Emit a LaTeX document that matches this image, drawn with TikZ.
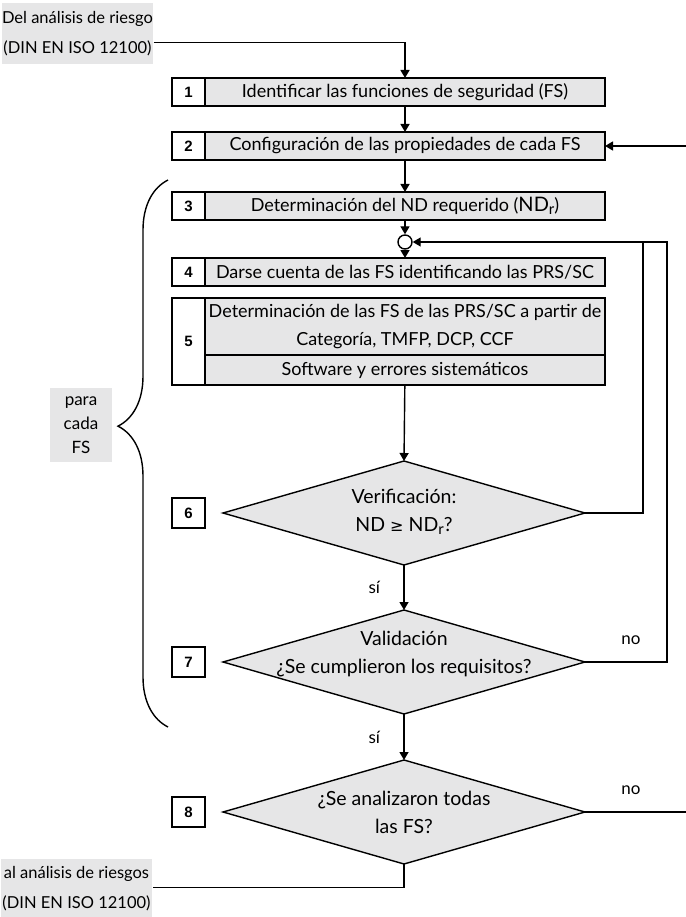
\documentclass[tikz,border=0pt]{standalone}
\usepackage{fontspec}
\setmainfont{Lato}
\newfontfamily\numfont{Liberation Sans}
\newfontfamily\symfont{DejaVu Sans}
\usetikzlibrary{arrows.meta,positioning,shapes.geometric,decorations.pathreplacing}
\definecolor{flowGray}{HTML}{E6E6E7}

\begin{document}
\begin{tikzpicture}[x=1pt,y=-1pt,font=\fontsize{17}{20}\selectfont,
  line width=1.4pt,>={Triangle[width=9pt,length=8pt]},
  stepbox/.style={draw,fill=flowGray,line width=1.7pt,minimum width=400pt,
        minimum height=28pt,inner sep=0pt,outer sep=0pt,font=\fontsize{18}{20}\selectfont},
  numbox/.style={draw,fill=white,line width=1.7pt,minimum width=33pt,
        minimum height=28pt,inner sep=0pt,outer sep=0pt,
        font=\numfont\bfseries\fontsize{15}{17}\selectfont},
  decision/.style={diamond,draw,fill=flowGray,line width=1.4pt,aspect=3.48,
        minimum width=362pt,minimum height=104pt,inner sep=0pt,outer sep=0pt},
  dtext/.style={align=center,inner sep=0pt,font=\fontsize{19.5}{28}\selectfont},
  termbox/.style={fill=flowGray,align=center,inner sep=0pt,
        font=\fontsize{16.5}{30}\selectfont}]
  \useasboundingbox (0,0) rectangle (685,917);

  % entrada y salida
  \node[termbox,minimum width=150pt,minimum height=61pt] (start) at (77.5,33.5)
       {Del análisis de riesgo\\(DIN EN ISO 12100)};
  \node[termbox,minimum width=151pt,minimum height=59pt] (final) at (76.5,888.5)
       {al análisis de riesgos\\(DIN EN ISO 12100)};

  % pasos
  \node[stepbox] (s1) at (405,92) {Identificar las funciones de seguridad (FS)};
  \node[numbox,left=0pt of s1] (n1) {1};
  \node[stepbox] (s2) at (405,146) {Configuración de las propiedades de cada FS};
  \node[numbox,left=0pt of s2] (n2) {2};
  \node[stepbox] (s3) at (405,206)
       {Determinación del ND requerido ({\fontsize{20}{20}\selectfont ND\raisebox{-0.35ex}{\fontsize{15}{15}\selectfont r}})};
  \node[numbox,left=0pt of s3] (n3) {3};
  \node[circle,draw,fill=white,line width=1.4pt,minimum size=14pt,inner sep=0pt] (jn) at (405,242) {};
  \node[stepbox] (s4) at (405,272) {Darse cuenta de las FS identificando las PRS/SC};
  \node[numbox,left=0pt of s4] (n4) {4};
  \node[stepbox,minimum height=57pt,align=center,font=\fontsize{18}{28}\selectfont] (s5a) at (405,326.5)
       {Determinación de las FS de las PRS/SC a partir de\\Categoría, TMFP, DCP, CCF};
  \node[stepbox,minimum height=30pt,below=0pt of s5a] (s5b) {Software y errores sistemáticos};
  \node[numbox,minimum height=87pt] (n5) at (188.5,341.5) {5};

  % decisiones
  \node[decision] (d6) at (404,513) {};
  \node[dtext] (t6) at ([yshift=1pt]d6.center)
       {Verificación:\\ND {\symfont\fontsize{16}{16}\selectfont≥} ND\raisebox{-0.35ex}{\fontsize{15}{15}\selectfont r}?};
  \node[numbox,minimum height=30pt] (n6) at (188.5,513) {6};
  \node[decision] (d7) at (404,662) {};
  \node[dtext] (t7) at ([yshift=8pt]d7.center) {Validación\\¿Se cumplieron los requisitos?};
  \node[numbox,minimum height=30pt] (n7) at (188.5,662) {7};
  \node[decision] (d8) at (404,812) {};
  \node[dtext] (t8) at (d8) {¿Se analizaron todas\\las FS?};
  \node[numbox,minimum height=30pt] (n8) at (188.5,812) {8};

  \coordinate (j6) at (643,242);
  \coordinate (j7) at (667,242);
  \coordinate (r8) at (689,812);
  \coordinate (r2) at (689,146);

  % conexiones
  \draw[->] ([yshift=-9pt]start.east) -| (s1.north);
  \draw[->] (s1) -- (s2);
  \draw[->] (s2) -- (s3);
  \draw[->] (s3) -- (jn);
  \draw[->] (jn) -- (s4);
  \draw[->] (s5b) -- (d6.north);
  \draw[->] (d6.south) -- node[left=20pt,pos=0.5] {sí} (d7.north);
  \draw[->] (d7.south) -- node[left=20pt,pos=0.5] {sí} (d8.north);
  \draw (d6.east) -| (j6);
  \draw[->] (d7.east) -| (j7) -- (jn.east);
  \draw[->] (d8.east) -- (r8) -- (r2) -- (s2.east);
  \draw (d8.south) |- ([yshift=1pt]final.east);
  \node (no7) at (631,640) {no};
  \node (no8) at (631,790) {no};

  % llave
  \draw[decorate,decoration={brace,amplitude=50pt,aspect=0.55}] (168,727) -- (168,180);
  \node[termbox,font=\fontsize{17}{24}\selectfont,minimum width=62pt,minimum height=74pt] (cada) at (81,425)
       {para\\cada\\FS};
\end{tikzpicture}
\end{document}
